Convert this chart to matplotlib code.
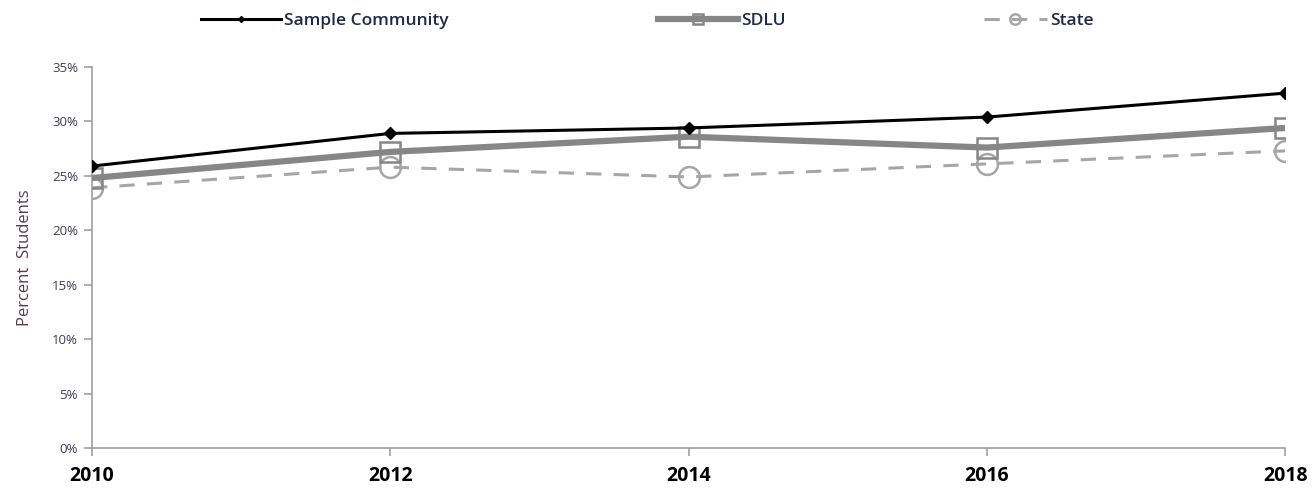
import matplotlib
matplotlib.use("Agg")
import matplotlib.pyplot as plt
from matplotlib.ticker import FuncFormatter

years = [2010, 2012, 2014, 2016, 2018]
sample_community = [25.9, 28.9, 29.4, 30.4, 32.6]
sdlu = [24.8, 27.2, 28.6, 27.6, 29.4]
state = [23.9, 25.8, 24.9, 26.1, 27.3]
y_ticks = [0, 5, 10, 15, 20, 25, 30, 35]

plt.rcParams["font.family"] = ["Open Sans", "DejaVu Sans"]

fig = plt.figure(figsize=(13.14, 4.92), dpi=100)
ax = fig.add_axes([0.070, 0.0894, 0.908, 0.7744])

l1, = ax.plot(years, sample_community, color="black", lw=2.2, marker="D",
              markersize=6, markerfacecolor="black", markeredgecolor="black",
              zorder=4)
l2, = ax.plot(years, sdlu, color="#868686", lw=4.5, marker="s",
              markersize=15, markerfacecolor="none", markeredgecolor="#868686",
              markeredgewidth=1.8, zorder=3)
l3, = ax.plot(years, state, color="#a6a6a6", lw=2.2, ls=(0, (5, 4)),
              marker="o", markersize=15, markerfacecolor="none",
              markeredgecolor="#a6a6a6", markeredgewidth=1.8, zorder=2)

ax.set_xlim(2010, 2018)
ax.set_ylim(0, 35)
ax.set_xticks(years)
ax.set_yticks(y_ticks)
ax.yaxis.set_major_formatter(FuncFormatter(lambda v, p: f"{v:.0f}%"))

for s in ["top", "right"]:
    ax.spines[s].set_visible(False)
for s in ["left", "bottom"]:
    ax.spines[s].set_color("#a0a0a0")
    ax.spines[s].set_linewidth(1.2)
ax.spines["left"].set_zorder(1)

ax.tick_params(axis="x", colors="#a0a0a0", length=6, width=1.2, pad=7,
               labelcolor="black", labelsize=14)
ax.tick_params(axis="y", colors="#a0a0a0", length=6, width=1.2, pad=4,
               labelcolor="#3c3c5a", labelsize=9.5)
for lab in ax.get_xticklabels():
    lab.set_fontweight("bold")

ax.set_ylabel("Percent  Students", color="#5a3a4a", fontsize=12, labelpad=14)

# legend entries spread across the top like the original
handles = [l1, l2, l3]
labels = ["Sample Community", "SDLU", "State"]
xpos = [0.141, 0.489, 0.737]
hlen = [4.6, 4.6, 3.6]
for h, lab, x, hl in zip(handles, labels, xpos, hlen):
    leg = fig.legend([h], [lab], loc="center left", bbox_to_anchor=(x, 0.957),
                     frameon=False, handlelength=hl,
                     handletextpad=0.2, markerscale=0.5,
                     prop={"weight": "semibold", "size": 12.5})
    for t in leg.get_texts():
        t.set_color("#1f2a4a")

fig.savefig("out.png", dpi=100)
